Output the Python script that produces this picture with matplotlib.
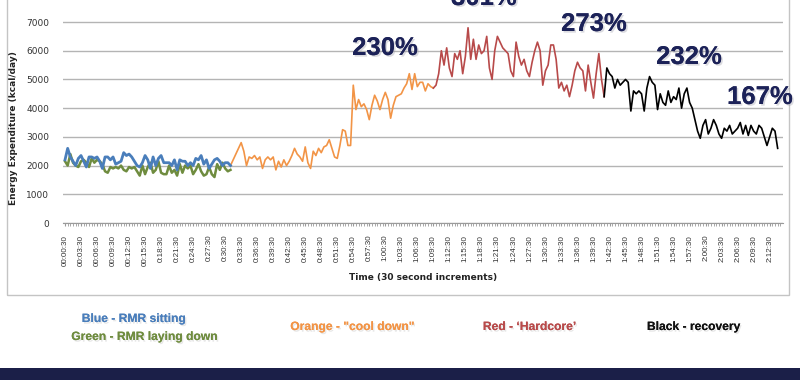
import matplotlib
matplotlib.use("Agg")
import matplotlib.pyplot as plt
import matplotlib.patheffects as pe
from matplotlib.patches import Rectangle
import numpy as np

# values (kcal/day), one per 30 s step
blue = [2200, 2600, 2300, 2150, 2000, 2250, 2350, 2150, 1950, 2300, 2300, 2250, 2300, 2150, 1900, 2300,
        2300, 2200, 2300, 2050, 2100, 2150, 2450, 2350, 2400, 2300, 2150, 2000, 1950, 2100, 2350, 2200,
        1900, 2300, 2000, 2250, 2350, 2100, 2100, 2100, 2000, 2200, 1850, 2200, 2150, 2150, 2000, 2100,
        2000, 2250, 2200, 2350, 2050, 2200, 1900, 2050, 2200, 2250, 2150, 2000, 2100, 2100, 2000]
green = [2150, 2000, 2400, 2100, 2000, 1950, 2150, 2200, 2100, 1950, 2250, 2100, 2200, 2150, 2050, 1800,
         1750, 1950, 1900, 1950, 1900, 2000, 1850, 1800, 1950, 1900, 1950, 1800, 1650, 2000, 1700, 1950,
         2100, 1750, 1850, 2150, 1750, 1700, 1700, 2000, 1750, 1850, 1650, 2050, 1750, 2000, 1900, 2000,
         1700, 1850, 2050, 1800, 1650, 1700, 1950, 1700, 1600, 2050, 1850, 2100, 1900, 1800, 1850]
orange = [2000, 2200, 2400, 2600, 2800, 2500, 2000, 2300, 2250, 2350, 2200, 2300, 1900, 2200, 2300, 2200,
          2300, 1850, 2150, 1950, 2200, 2000, 2150, 2350, 2600, 2400, 2300, 2150, 2650, 2100, 1900, 2500,
          2350, 2600, 2450, 2650, 2700, 2900, 2600, 2300, 2250, 2700, 3250, 3200, 2700, 2700, 4800, 3950,
          4300, 4050, 4150, 3950, 3600, 4100, 4450, 4250, 3950, 4300, 4550, 4300, 3650, 4100, 4400, 4450,
          4500, 4700, 4850, 5200, 4650, 5200, 4750, 4900, 4900, 4600, 4850, 4750, 4700]
red = [4700, 4800, 5200, 6000, 5500, 6100, 5400, 5100, 5900, 5700, 6000, 5200, 5800, 6800, 5700, 6400,
       5700, 6200, 5900, 6000, 6500, 5400, 5000, 6000, 6500, 6300, 6100, 6000, 5900, 5300, 5100, 6300,
       5800, 5500, 5700, 5300, 5100, 5600, 6000, 6300, 6000, 4800, 5300, 5500, 6200, 6200, 5700, 4700,
       4900, 4600, 4800, 4400, 4800, 5300, 5600, 5400, 5300, 4600, 5500, 4900, 4350, 5200, 5900, 5000, 4400]
black = [4400, 5400, 5200, 5100, 4700, 5000, 4800, 4900, 5000, 4900, 3900, 4600, 4500, 4600, 4500, 3900,
         4700, 5100, 4900, 4800, 3950, 4500, 4200, 4100, 4600, 4200, 4400, 4300, 4700, 4000, 4500, 4700,
         4200, 4000, 3600, 3200, 2950, 3400, 3600, 3100, 3300, 3600, 3400, 3100, 2950, 3300, 3200, 3400,
         3100, 3200, 3300, 3500, 3100, 3400, 3050, 3400, 3200, 3100, 3400, 3300, 3000, 2700, 3000, 3300,
         3200, 2600]

tick_labels = ["00:00:30", "00:03:30", "00:06:30", "00:09:30", "00:12:30", "00:15:30", "0:18:30", "0:21:30",
               "0:24:30", "0:27:30", "0:30:30", "0:33:30", "0:36:30", "0:39:30", "0:42:30", "0:45:30",
               "0:48:30", "0:51:30", "0:54:30", "0:57:30", "1:00:30", "1:03:30", "1:06:30", "1:09:30",
               "1:12:30", "1:15:30", "1:18:30", "1:21:30", "1:24:30", "1:27:30", "1:30:30", "1:33:30",
               "1:36:30", "1:39:30", "1:42:30", "1:45:30", "1:48:30", "1:51:30", "1:54:30", "1:57:30",
               "2:00:30", "2:03:30", "2:06:30", "2:09:30", "2:12:30"]

pct_labels = ["230%", "301%", "273%", "232%", "167%"]
legend_texts = ["Blue - RMR sitting", "Green - RMR laying down", "Orange - \"cool down\"",
                "Red - \u2018Hardcore\u2019", "Black - recovery"]

c_blue, c_green, c_orange, c_red = "#4a7ebb", "#6f8c3f", "#f29446", "#b84a4a"
navy = "#1c2258"

W, H = 800, 380
fig = plt.figure(figsize=(8, 3.8), dpi=100)
fig.patch.set_facecolor("white")

# outer chart frame
fig.patches.append(Rectangle((7 / W, 1 - 295 / H), 782 / W, 310 / H, transform=fig.transFigure,
                             fill=False, edgecolor="#c4c4c4", lw=1.0))
# dark band at the bottom
fig.patches.append(Rectangle((0, 0), 1, 12 / H, transform=fig.transFigure,
                             facecolor="#1b1f48", edgecolor="none"))

ax = fig.add_axes([63 / W, 1 - 223 / H, 720 / W, 229.7 / H])

xb = np.arange(len(blue))
xo = np.arange(len(blue) - 1, len(blue) - 1 + len(orange))
xr = np.arange(xo[-1], xo[-1] + len(red))
xk = np.arange(xr[-1], xr[-1] + len(black))

ax.plot(xb, green, color=c_green, lw=1.8, zorder=3)
ax.plot(xb, blue, color=c_blue, lw=2.0, zorder=4)
ax.plot(xo, orange, color=c_orange, lw=1.2, zorder=3)
ax.plot(xr, red, color=c_red, lw=1.2, zorder=3)
ax.plot(xk, black, color="black", lw=1.2, zorder=3)

ax.set_xlim(-0.75, 269)
ax.set_ylim(0, 8000)
ax.set_yticks(np.arange(0, 7001, 1000))
ax.grid(axis="y", color="#b4b4b4", lw=1.0)
ax.set_axisbelow(True)
for s in ["top", "right", "left"]:
    ax.spines[s].set_visible(False)
ax.spines["bottom"].set_color("#9a9a9a")

ax.set_xticks(np.arange(len(tick_labels)) * 6)
ax.set_xticklabels(tick_labels, rotation=90, fontsize=5.8, color="#333333", family="Liberation Sans")
ax.set_xticks(np.arange(0, 269), minor=True)
ax.tick_params(axis="x", which="both", length=2.5, color="#9a9a9a", pad=6)
ax.tick_params(axis="y", length=0, labelsize=6.5, labelcolor="#333333", pad=10)

ax.set_xlabel("Time (30 second increments)", fontsize=6.5, fontweight="bold", color="#222222", labelpad=5)
ax.set_ylabel("Energy Expenditure (kcal/day)", fontsize=6.5, fontweight="bold", color="#222222")
ax.yaxis.set_label_coords(-0.0625, (223 - 128) / 229.7)

shadow = [pe.withSimplePatchShadow(offset=(1.2, -1.2), shadow_rgbFace="#9a9aa8", alpha=0.35), pe.Normal()]
pct_pos = [(385, 48), (484, -2), (594, 24), (689, 57), (760, 97)]
for lab, (px, py) in zip(pct_labels, pct_pos):
    fig.text(px / W, 1 - py / H, lab, ha="center", va="center", fontsize=18.5, fontweight="bold",
             color=navy, family="Liberation Sans", path_effects=shadow)

leg_colors = [c_blue, c_green, c_orange, c_red, "#111111"]
leg_pos = [(134, 319), (145, 337), (353, 327), (530, 327), (694, 327)]
soft = [pe.withSimplePatchShadow(offset=(1, -1.2), shadow_rgbFace="#b0b0b0", alpha=0.3), pe.Normal()]
for lab, col, (px, py) in zip(legend_texts, leg_colors, leg_pos):
    fig.text(px / W, 1 - py / H, lab, ha="center", va="center", fontsize=8.7, fontweight="bold",
             color=col, family="Liberation Sans", path_effects=soft)

fig.savefig("out.png", dpi=100)
